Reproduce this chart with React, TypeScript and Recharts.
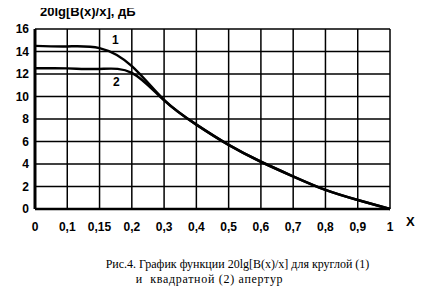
import { LineChart, Line, XAxis, YAxis, CartesianGrid } from "recharts";

const xLabels = ["0", "0,1", "0,15", "0,2", "0,3", "0,4", "0,5", "0,6", "0,7", "0,8", "0,9", "1"];
const roundAperture = [14.5, 14.45, 14.3, 12.7, 9.7, 7.5, 5.7, 4.2, 2.9, 1.7, 0.8, 0];
const squareAperture = [12.5, 12.5, 12.45, 12.1, 9.65, 7.5, 5.7, 4.2, 2.9, 1.7, 0.8, 0];
const yTicks = [0, 2, 4, 6, 8, 10, 12, 14, 16];

const data = xLabels.map((x, i) => ({ x, c1: roundAperture[i], c2: squareAperture[i] }));

const boldFont = "'Liberation Sans', Arial, sans-serif";

// chart sits at the body's 8px offset, overlays are placed relative to it
const App = () => {
	return (
		<div style={{ position: "relative", width: 417, height: 294 }}>
			<div style={{ fontFamily: boldFont, fontWeight: "bold" }}>
				<LineChart width={417} height={242} data={data} margin={{ top: 21, right: 35, left: 0, bottom: 0 }}>
					<CartesianGrid stroke="#000" strokeWidth={1.5} />
					<XAxis
						dataKey="x"
						height={41}
						tickLine={false}
						tickSize={11}
						axisLine={{ stroke: "#000", strokeWidth: 2.5 }}
						tick={{ fill: "#000", fontSize: 12 }}
						interval={0}
					/>
					<YAxis
						width={27}
						domain={[0, 16]}
						ticks={yTicks}
						interval={0}
						tickLine={false}
						tickSize={4}
						axisLine={{ stroke: "#000", strokeWidth: 3 }}
						tick={{ fill: "#000", fontSize: 12 }}
					/>
					<Line type="natural" dataKey="c1" stroke="#000" strokeWidth={2.5} dot={false} isAnimationActive={false} />
					<Line type="natural" dataKey="c2" stroke="#000" strokeWidth={2.5} dot={false} isAnimationActive={false} />
				</LineChart>
			</div>
			<div style={{ position: "absolute", left: 32, top: -4, fontFamily: boldFont, fontWeight: "bold", fontSize: 13 }}>
				20lg[B(x)/x], дБ
			</div>
			<div style={{ position: "absolute", left: 104, top: 25, fontFamily: boldFont, fontWeight: "bold", fontSize: 12 }}>1</div>
			<div style={{ position: "absolute", left: 105, top: 67, fontFamily: boldFont, fontWeight: "bold", fontSize: 12 }}>2</div>
			<div style={{ position: "absolute", left: 398, top: 206, fontFamily: boldFont, fontWeight: "bold", fontSize: 13 }}>X</div>
			<div
				style={{
					position: "absolute",
					left: -8,
					width: 425,
					top: 249,
					textAlign: "center",
					fontFamily: "'Liberation Serif', 'Times New Roman', serif",
					fontSize: 12,
					lineHeight: "15px",
				}}
			>
				<div style={{ paddingLeft: 50 }}>Рис.4. График функции 20lg[B(x)/x] для круглой (1)</div>
				<div style={{ letterSpacing: 0.7, paddingRight: 6 }}>и&nbsp; квадратной (2) апертур</div>
			</div>
		</div>
	);
};

export default App;
